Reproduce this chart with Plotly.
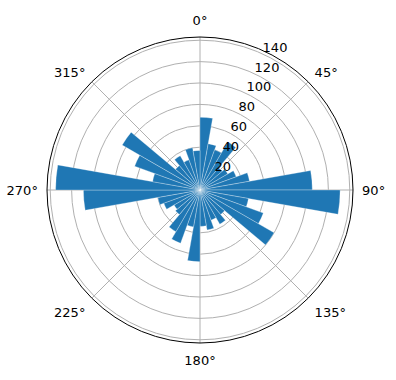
import plotly.graph_objects as go

# 36 direction bins (deg, bin centres) and bar heights
directions = [5 + 10 * i for i in range(36)]
counts = [
    68, 44, 40, 52, 27, 30, 36, 47, 105,      # 0-90
    131, 46, 63, 80, 30, 37, 30, 38, 34,      # 90-180
    67, 35, 53, 45, 30, 28, 36, 40, 109,      # 180-270
    135, 45, 65, 84, 30, 37, 30, 40, 37,      # 270-360
]
angle_ticks = [0, 45, 90, 135, 180, 225, 270, 315]
angle_labels = [f"{a}°" for a in angle_ticks]
radial_ticks = [20, 40, 60, 80, 100, 120, 140]
radial_labels = [f"{v}<br> " for v in radial_ticks]

fig = go.Figure()
fig.add_trace(go.Barpolar(
    r=counts, theta=directions, width=[10] * len(directions),
    marker=dict(color="#1f77b4", line=dict(color="white", width=0.3)),
    showlegend=False,
))

W, H = 396, 380
cx, cy, R = 200, 190, 153
fig.update_layout(
    width=W, height=H, margin=dict(l=0, r=0, t=0, b=0),
    paper_bgcolor="white",
    font=dict(family="DejaVu Sans", size=13, color="black"),
    polar=dict(
        domain=dict(x=[(cx - R) / W, (cx + R) / W], y=[(H - cy - R) / H, (H - cy + R) / H]),
        bgcolor="white",
        angularaxis=dict(
            rotation=90, direction="clockwise",
            tickmode="array", tickvals=angle_ticks, ticktext=angle_labels,
            showline=True, linecolor="black", linewidth=1,
            showgrid=True, gridcolor="#b0b0b0", gridwidth=0.8,
            ticks="outside", ticklen=6, tickcolor="rgba(0,0,0,0)",
            layer="above traces",
        ),
        radialaxis=dict(
            range=[0, 143], tickmode="array", tickvals=radial_ticks,
            ticktext=radial_labels,
            angle=68, tickangle=68,
            showline=False, ticks="",
            showgrid=True, gridcolor="#b0b0b0", gridwidth=0.8,
            layer="above traces",
        ),
    ),
)
fig.write_html("out.html")
